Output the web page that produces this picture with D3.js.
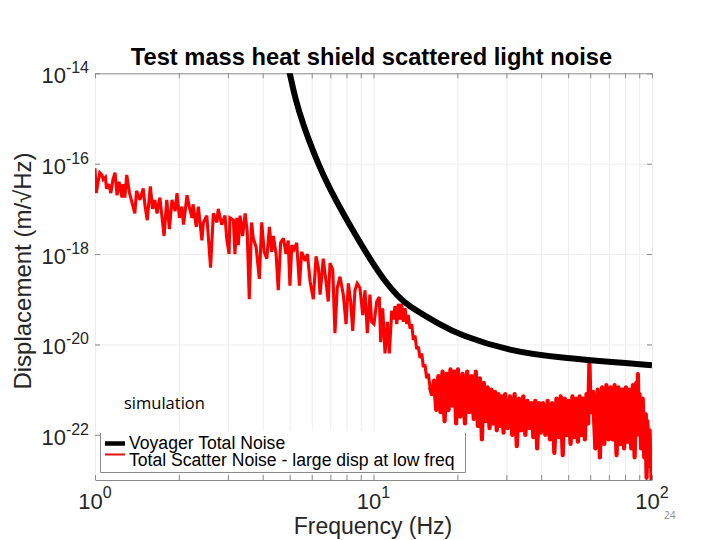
<!DOCTYPE html>
<html><head><meta charset="utf-8">
<script src="https://cdn.jsdelivr.net/npm/d3@7/dist/d3.min.js"></script>
<style>body{margin:0;background:#fff}svg{display:block}</style>
</head><body><svg id="c" width="720" height="540"></svg>
<script>
// ---------- data ----------
const titleText = "Test mass heat shield scattered light noise";
const xLabel = "Frequency (Hz)";
const yLabel = "Displacement (m/\u221AHz)";
const legendLabels = ["Voyager Total Noise", "Total Scatter Noise - large disp at low freq"];
const xMajorTicks = [1, 10, 100];
const xMajorExp = ["0", "1", "2"];
const xMinorTicks = [2,3,4,5,6,7,8,9,20,30,40,50,60,70,80,90];
const yMajorTicks = [1e-14, 1e-16, 1e-18, 1e-20, 1e-22];
const yMajorExp = ["-14", "-16", "-18", "-20", "-22"];

// Voyager total noise (m/rtHz)
const voyagerFreq = [4.9, 5.01, 5.23, 5.60, 6.08, 6.60, 7.38, 8.46, 9.71, 11.15, 12.28, 13.15, 17.32, 20.46, 30.9, 46.8, 100];
const voyagerDisp = [1.58e-14, 1e-14, 2.75e-15, 7.08e-16, 1.82e-16, 5.5e-17, 1.41e-17, 3.2e-18, 7.76e-19, 2.2e-19, 1.15e-19, 7.5e-20, 2.75e-20, 1.62e-20, 7.08e-21, 5.01e-21, 3.47e-21];

// Total scatter noise (m/rtHz)
const scatterFreq = [
1.00,1.01,1.04,1.06,1.07,1.09,1.10,1.12,1.14,1.16,
1.18,1.20,1.22,1.25,1.26,1.28,1.30,1.33,1.35,1.39,
1.41,1.45,1.49,1.51,1.54,1.58,1.61,1.64,1.67,1.71,
1.77,1.81,1.85,1.89,1.94,1.97,2.01,2.05,2.08,2.14,
2.18,2.23,2.25,2.31,2.35,2.42,2.45,2.52,2.60,2.66,
2.74,2.77,2.85,2.93,2.97,3.03,3.05,3.14,3.18,3.23,
3.27,3.32,3.39,3.46,3.52,3.58,3.65,3.70,3.79,3.89,
3.97,4.05,4.14,4.23,4.31,4.37,4.47,4.55,4.64,4.75,
4.85,4.94,5.01,5.09,5.18,5.30,5.42,5.52,5.68,5.79,
5.92,6.08,6.22,6.34,6.43,6.60,6.75,6.88,6.98,7.14,
7.27,7.41,7.58,7.79,7.97,8.12,8.28,8.42,8.58,8.74,
8.94,9.15,9.32,9.50,9.71,9.85,10.04,10.27,10.49,10.61,
10.79,11.0,11.21,11.40,11.63,11.78,11.95,12.12,12.28,12.45,
12.63,12.79,12.98,13.16,13.33,13.53,13.72,13.90,14.09,14.29,
14.49,14.69,14.90,15.10,15.31,15.52,15.73,15.96,
16.2,16.5,16.8,17.1,17.4,17.7,18.0,18.3,18.6,18.9,19.2,19.5,19.8,20.1,
20.5,20.9,21.3,21.7,22.1,22.5,22.9,23.3,23.7,24.1,24.5,24.9,25.3,25.7,26.1,26.5,26.9,27.3,27.7,28.1,28.5,28.9,29.3,29.7,
30.3,30.9,31.5,32.1,32.7,33.3,33.9,34.5,35.1,35.7,36.3,36.9,37.5,38.1,38.7,39.3,39.9,
40.6,41.4,42.2,43.0,43.8,44.6,45.4,46.2,47.0,47.8,48.6,49.4,50.2,51.0,51.8,52.6,53.4,54.2,55.0,55.8,56.6,57.4,58.2,59.0,59.3,59.6,59.9,60.2,
61.4,62.6,63.8,65.0,66.2,67.4,68.6,69.8,71.0,72.2,73.4,74.6,75.8,77.0,78.2,79.4,80.6,81.8,83.0,84.2,85.4,86.6,87.8,88.4,89.0,89.6,90.2,91.4,92.6,93.8,95.0,95.6,96.2,97.4,98.0,98.6,99.2,99.8
];
const scatterDisp = [
7.94e-17,2.24e-17,6.31e-17,5.62e-17,4.47e-17,5.01e-17,2.82e-17,3.55e-17,2.24e-17,4.47e-17,
6.31e-17,2.0e-17,3.98e-17,1.78e-17,3.55e-17,1.78e-17,5.62e-17,2.24e-17,1.58e-17,7.94e-18,
2.51e-17,1.58e-17,2.82e-17,1.26e-17,5.62e-18,3.16e-17,1.0e-17,1.58e-17,7.94e-18,1.78e-17,
2.51e-18,1.58e-17,3.55e-18,1.58e-17,8.91e-18,2.24e-17,6.31e-18,1.12e-17,4.47e-18,2.0e-17,
1.12e-17,6.31e-18,1.26e-17,3.98e-18,1.12e-17,2.0e-18,5.01e-18,7.08e-18,5.01e-19,7.94e-18,
5.01e-18,1.0e-17,4.47e-18,7.08e-18,2.24e-18,1.0e-18,6.31e-18,5.62e-18,1.0e-18,6.31e-18,
1.58e-18,7.08e-18,2.51e-18,7.94e-18,3.16e-18,1.0e-19,5.01e-18,2.24e-18,1.41e-18,2.82e-19,
5.01e-18,1.12e-18,7.94e-19,3.98e-18,1.12e-18,2.51e-18,1.0e-18,1.58e-19,1.78e-18,2.24e-18,
1.0e-18,2.0e-18,2.0e-19,1.58e-18,1.26e-18,1.78e-18,2.0e-19,1.12e-18,7.08e-19,1.0e-18,
2.51e-19,1.0e-19,8.91e-19,5.01e-19,1.26e-19,7.94e-19,2.51e-19,8.91e-20,6.31e-19,4.47e-19,
1.78e-20,1.78e-19,3.16e-19,1.26e-19,2.82e-20,2.24e-19,8.91e-20,2.0e-20,1.58e-19,2.24e-19,
1.78e-19,4.47e-20,1.58e-19,1.78e-20,1.26e-19,3.16e-20,2.82e-20,8.91e-20,1.12e-19,1.12e-20,
6.31e-20,6.31e-21,3.16e-20,6.31e-21,5.62e-20,3.55e-20,7.08e-20,2.82e-20,7.94e-20,3.55e-20,
7.94e-20,3.16e-20,6.31e-20,2.82e-20,4.47e-20,2.24e-20,2.82e-20,1.26e-20,1.58e-20,7.94e-21,
8.91e-21,5.01e-21,6.31e-21,3.16e-21,3.55e-21,1.78e-21,2.24e-21,1.12e-21,
7.94e-22,1.58e-21,3.55e-22,2.0e-21,3.16e-22,2.51e-21,2.0e-22,2.24e-21,3.55e-22,2.82e-21,4.47e-22,2.51e-21,1.78e-22,2.82e-21,
2.51e-22,2.24e-21,1.78e-22,2.51e-21,3.16e-22,2.0e-21,2.24e-22,2.51e-21,1.58e-22,1.78e-21,7.94e-23,1.41e-21,2.0e-22,1.12e-21,1.41e-22,1.0e-21,1.78e-22,8.91e-22,1.26e-22,7.94e-22,1.58e-22,7.08e-22,1.12e-22,7.94e-22,
1.41e-22,7.08e-22,1.0e-22,7.94e-22,5.62e-23,6.31e-22,1.26e-22,7.08e-22,1.0e-22,5.62e-22,1.41e-22,5.01e-22,8.91e-23,5.62e-22,5.01e-23,5.01e-22,1.12e-22,
5.01e-22,1.0e-22,5.62e-22,7.94e-23,5.01e-22,3.98e-23,6.31e-22,8.91e-23,7.08e-22,3.55e-23,6.31e-22,1.0e-22,5.62e-22,6.31e-23,7.08e-22,8.91e-23,6.31e-22,7.08e-23,7.08e-22,1.0e-22,6.31e-22,7.94e-23,7.94e-22,1.78e-22,1.0e-21,3.8e-21,1.12e-21,3.16e-22,
8.91e-22,5.01e-23,1.0e-21,3.16e-23,1.12e-21,6.31e-23,1.26e-21,7.94e-23,1.12e-21,7.94e-23,1.26e-21,3.55e-23,1.12e-21,6.31e-23,1.0e-21,5.01e-23,1.12e-21,7.08e-23,1.0e-21,5.01e-23,1.26e-21,3.16e-23,1.41e-21,1.0e-22,2.2e-21,1.26e-22,7.94e-22,5.01e-23,6.31e-22,3.16e-23,2.82e-22,1.12e-23,2.0e-22,2.51e-23,1.26e-22,2.0e-23,5.01e-23,6.31e-24
];

// ---------- drawing ----------
const svg = d3.select("#c");
const L = 95, R = 652, T = 73.3, B = 480;
const x = d3.scaleLog().domain([1, 100]).range([L, R]);
const y = d3.scaleLog().domain([1e-23, 1e-14]).range([B, T]);
const font = "'Liberation Sans', Arial, Helvetica, sans-serif";
const allX = xMajorTicks.concat(xMinorTicks).sort((a,b)=>a-b);

// grid
const gx = svg.append("g").attr("transform", `translate(0,${B})`)
  .call(d3.axisBottom(x).tickValues(allX).tickSize(-(B - T)).tickSizeOuter(0).tickFormat(""));
gx.select(".domain").remove();
gx.selectAll(".tick line").attr("stroke", "#ededed").attr("stroke-width", 1);
const gy = svg.append("g").attr("transform", `translate(${L},0)`)
  .call(d3.axisLeft(y).tickValues(yMajorTicks.slice(1)).tickSize(-(R - L)).tickSizeOuter(0).tickFormat(""));
gy.select(".domain").remove();
gy.selectAll(".tick line").attr("stroke", "#ededed").attr("stroke-width", 1);

// axes (ticks inward)
function styleAxis(g) {
  g.select(".domain").attr("stroke", "#8a8a8a").attr("stroke-width", 1);
  g.selectAll(".tick line").attr("stroke", "#8a8a8a");
}
const ab = svg.append("g").attr("transform", `translate(0,${B})`)
  .call(d3.axisBottom(x).tickValues(allX).tickSize(-5).tickSizeOuter(0).tickFormat(""));
styleAxis(ab);
const at = svg.append("g").attr("transform", `translate(0,${T})`)
  .call(d3.axisTop(x).tickValues(allX).tickSize(-5).tickSizeOuter(0).tickFormat(""));
styleAxis(at);
const al = svg.append("g").attr("transform", `translate(${L},0)`)
  .call(d3.axisLeft(y).tickValues(yMajorTicks).tickSize(-5).tickSizeOuter(0).tickFormat(""));
styleAxis(al); al.select(".domain").remove();
const ar = svg.append("g").attr("transform", `translate(${R},0)`)
  .call(d3.axisRight(y).tickValues(yMajorTicks).tickSize(-5).tickSizeOuter(0).tickFormat(""));
styleAxis(ar); ar.select(".domain").remove();

// tick labels with superscripts
xMajorTicks.forEach((v, i) => {
  const t = svg.append("text").attr("x", x(v)).attr("y", 509).attr("text-anchor", "middle")
    .attr("font-family", font).attr("font-size", 22).attr("fill", "#262626");
  t.append("tspan").text("10");
  t.append("tspan").attr("dy", -11).attr("font-size", 16).text(xMajorExp[i]);
});
yMajorTicks.forEach((v, i) => {
  const t = svg.append("text").attr("x", 89).attr("y", y(v) + 10).attr("text-anchor", "end")
    .attr("font-family", font).attr("font-size", 22).attr("fill", "#262626");
  t.append("tspan").text("10");
  t.append("tspan").attr("dy", -10).attr("font-size", 16).text(yMajorExp[i]);
});

// clip
svg.append("clipPath").attr("id", "plot").append("rect")
  .attr("x", L).attr("y", T).attr("width", R - L).attr("height", B - T);

const lineGen = d3.line().x(d => x(d[0])).y(d => y(d[1]));
const scatterData = d3.zip(scatterFreq, scatterDisp);
const plotG = svg.append("g").attr("clip-path", "url(#plot)");
plotG.append("path").datum(scatterData)
  .attr("d", lineGen).attr("fill", "none").attr("stroke", "#ff0000")
  .attr("stroke-width", 3.1).attr("stroke-linejoin", "miter").attr("stroke-miterlimit", 2.5);
// the dense high-frequency part of the same series renders as a solid band
plotG.append("path").datum(scatterData.filter(d => d[0] >= 15.9))
  .attr("d", lineGen).attr("fill", "none").attr("stroke", "#ff0000")
  .attr("stroke-width", 4.2).attr("stroke-linejoin", "round");

const voyData = d3.zip(voyagerFreq, voyagerDisp);
plotG.append("path").datum(voyData)
  .attr("d", d3.line().x(d => x(d[0])).y(d => y(d[1])).curve(d3.curveBasis))
  .attr("fill", "none").attr("stroke", "#000").attr("stroke-width", 6);

// title & axis labels
svg.append("text").attr("x", 371.5).attr("y", 65).attr("text-anchor", "middle")
  .attr("font-family", font).attr("font-weight", "bold").attr("font-size", 23.7).attr("fill", "#000")
  .text(titleText);
svg.append("text").attr("x", 373).attr("y", 534).attr("text-anchor", "middle")
  .attr("font-family", font).attr("font-size", 23).attr("fill", "#262626").text(xLabel);
svg.append("text").attr("transform", "translate(31,271) rotate(-90)").attr("text-anchor", "middle")
  .attr("font-family", font).attr("font-size", 24).attr("fill", "#262626").text(yLabel);

// legend
const lg = svg.append("g");
lg.append("rect").attr("x", 100).attr("y", 431).attr("width", 366).attr("height", 42).attr("fill", "#fff");
lg.append("path").attr("d", "M100.5,433V472.5H465.5V433").attr("fill", "none").attr("stroke", "#8a8a8a").attr("stroke-width", 1);
lg.append("line").attr("x1", 105).attr("x2", 125).attr("y1", 443.5).attr("y2", 443.5).attr("stroke", "#000").attr("stroke-width", 4.5);
lg.append("line").attr("x1", 105).attr("x2", 125).attr("y1", 454.5).attr("y2", 454.5).attr("stroke", "#e01010").attr("stroke-width", 2);
lg.append("text").attr("x", 129).attr("y", 448.5).attr("font-family", font).attr("font-size", 17.6).attr("fill", "#000").text(legendLabels[0]);
lg.append("text").attr("x", 129).attr("y", 465.5).attr("font-family", font).attr("font-size", 17.6).attr("fill", "#000").text(legendLabels[1]);

// annotations
svg.append("text").attr("x", 124).attr("y", 409).attr("font-family", "'Open Sans', 'Noto Sans', sans-serif")
  .attr("font-size", 16.5).attr("fill", "#000").text("simulation");
svg.append("text").attr("x", 664).attr("y", 519).attr("font-family", "'Open Sans', sans-serif")
  .attr("font-size", 10).attr("fill", "#8c8c8c").text("24");
</script></body></html>
